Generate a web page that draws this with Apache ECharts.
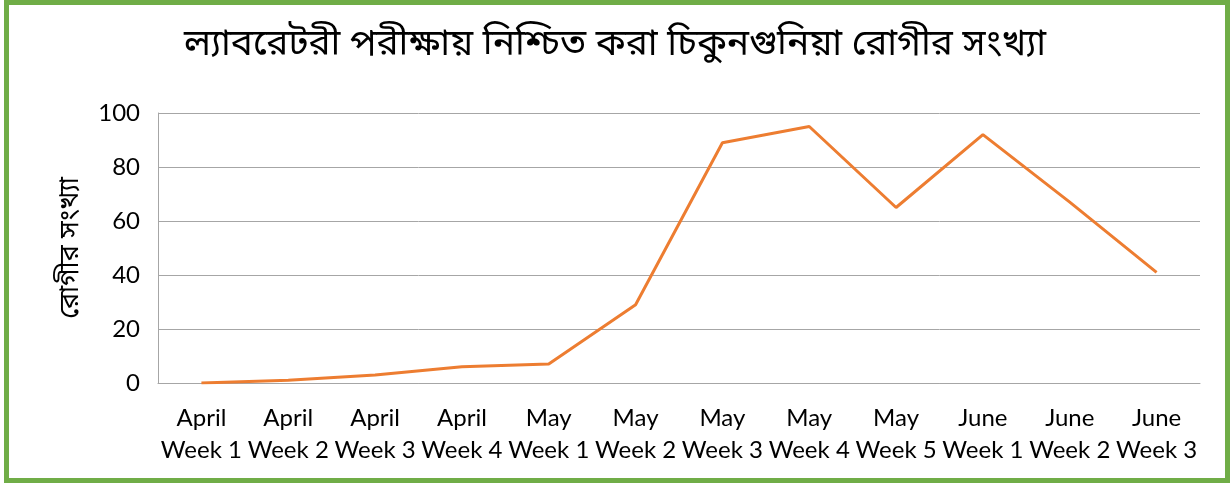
<!DOCTYPE html>
<html>
<head>
<meta charset="utf-8">
<script src="https://cdn.jsdelivr.net/npm/echarts@6/dist/echarts.min.js"></script>
<style>
  html, body { margin: 0; padding: 0; background: #fff; }
  #wrap { position: relative; width: 1230px; height: 483px; overflow: hidden; }
  #chart { position: absolute; left: 0; top: 0; width: 1230px; height: 483px; }
  #frame { position: absolute; left: 4px; top: 0; right: 0; bottom: 0; border: 5px solid #70ad47; pointer-events: none; }
</style>
</head>
<body>
<div id="wrap">
  <div id="chart"></div>
  <div id="frame"></div>
</div>
<script>
const categories = ['April\nWeek 1', 'April\nWeek 2', 'April\nWeek 3', 'April\nWeek 4',
  'May\nWeek 1', 'May\nWeek 2', 'May\nWeek 3', 'May\nWeek 4', 'May\nWeek 5',
  'June\nWeek 1', 'June\nWeek 2', 'June\nWeek 3']
const patients = [0, 1, 3, 6, 7, 29, 89, 95, 65, 92, 67, 41]
const titleText = 'ল্যাবরেটরী পরীক্ষায় নিশ্চিত করা চিকুনগুনিয়া রোগীর সংখ্যা'
const yAxisName = 'রোগীর সংখ্যা'

const bnFont = '"Noto Sans Bengali", "Noto Serif Bengali", "Lohit Bengali", "Noto Sans", sans-serif'
const latin = 'Lato, "Noto Sans", sans-serif'

const myChart = echarts.init(document.getElementById('chart'))
myChart.setOption({
  animation: false,
  title: {
    text: titleText,
    left: 'center',
    top: 24,
    textStyle: { fontFamily: bnFont, fontSize: 37, fontWeight: 'normal', color: '#000' }
  },
  grid: { left: 158, right: 30, top: 113, bottom: 100 },
  xAxis: {
    type: 'category',
    data: categories,
    boundaryGap: true,
    axisLine: { lineStyle: { color: '#a6a6a6', width: 1 } },
    axisTick: { show: false },
    axisLabel: { fontFamily: latin, fontSize: 24, color: '#000', lineHeight: 32, margin: 19, interval: 0 }
  },
  yAxis: {
    type: 'value',
    min: 0,
    max: 100,
    interval: 20,
    name: yAxisName,
    nameLocation: 'middle',
    nameGap: 72,
    nameRotate: 90,
    nameTextStyle: { fontFamily: bnFont, fontSize: 27, color: '#000' },
    axisLine: { show: true, lineStyle: { color: '#a6a6a6', width: 1 } },
    axisTick: { show: false },
    splitLine: { lineStyle: { color: '#a6a6a6', width: 1 } },
    axisLabel: { fontFamily: latin, fontSize: 24, color: '#000', margin: 18 }
  },
  series: [{
    name: yAxisName,
    type: 'line',
    data: patients,
    symbol: 'none',
    lineStyle: { color: '#ed7d31', width: 3 },
    itemStyle: { color: '#ed7d31' }
  }]
})
</script>
</body>
</html>
